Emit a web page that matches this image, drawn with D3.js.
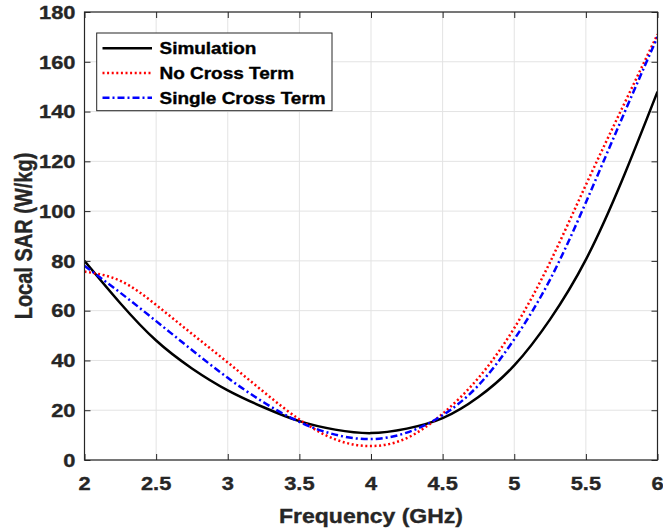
<!DOCTYPE html>
<html>
<head>
<meta charset="utf-8">
<script src="https://cdn.jsdelivr.net/npm/d3@7/dist/d3.min.js"></script>
<style>
  html, body { margin: 0; padding: 0; background: #ffffff; }
  svg { display: block; }
  text { font-family: "Liberation Sans", Arial, Helvetica, sans-serif; font-weight: bold; fill: #262626; stroke: #262626; stroke-width: 0.35px; }
</style>
</head>
<body>
<svg id="chart" width="663" height="529"></svg>
<script>
// ---- data ----
const freq = [2.0, 2.25, 2.5, 2.75, 3.0, 3.25, 3.5, 3.75, 4.0, 4.25, 4.5, 4.75, 5.0, 5.25, 5.5, 5.75, 6.0];
const simulation      = [80.0, 63.0, 48.0, 36.8, 28.0, 21.2, 15.6, 12.2, 10.8, 12.6, 16.8, 25.3, 38.0, 56.5, 80.5, 112.0, 148.0];
const singleCrossTerm = [78.0, 67.2, 55.8, 44.2, 33.0, 23.2, 15.3, 10.2, 8.4, 11.0, 18.0, 30.0, 48.5, 72.5, 103.5, 137.0, 170.0];
const noCrossTerm     = [75.7, 72.0, 62.3, 50.7, 39.2, 27.4, 16.3, 8.3, 5.6, 8.8, 18.6, 33.0, 53.0, 79.5, 110.5, 141.0, 171.0];
const xTicks = [2, 2.5, 3, 3.5, 4, 4.5, 5, 5.5, 6];
const yTicks = [0, 20, 40, 60, 80, 100, 120, 140, 160, 180];
const seriesNames = ["Simulation", "No Cross Term", "Single Cross Term"];
const xLabel = "Frequency (GHz)";
const yLabel = "Local SAR (W/kg)";

// ---- layout ----
const svg = d3.select("#chart");
const L = 84.5, R = 657.5, T = 12, B = 460;
const SX = 1.15; // horizontal stretch of the text in the reference
const axisColor = "#262626";

const x = d3.scaleLinear().domain([2, 6]).range([L, R]);
const y = d3.scaleLinear().domain([0, 180]).range([B, T]);

// grid
const grid = svg.append("g");
grid.selectAll("line.gx").data(xTicks).enter().append("line")
  .attr("x1", d => x(d)).attr("x2", d => x(d)).attr("y1", T).attr("y2", B)
  .attr("stroke", "#e3e3e3").attr("stroke-width", 1);
grid.selectAll("line.gy").data(yTicks).enter().append("line")
  .attr("x1", L).attr("x2", R).attr("y1", d => y(d)).attr("y2", d => y(d))
  .attr("stroke", "#e3e3e3").attr("stroke-width", 1);

// curves
const series = [
  { name: seriesNames[0], values: simulation, color: "#000000", dash: null, width: 2.5 },
  { name: seriesNames[1], values: noCrossTerm, color: "#ff0000", dash: "2,2.6", width: 2.5 },
  { name: seriesNames[2], values: singleCrossTerm, color: "#0000ff", dash: "7,3,2,3", width: 2.5 }
];
const line = d3.line().x(d => x(d[0])).y(d => y(d[1])).curve(d3.curveNatural);
svg.append("clipPath").attr("id", "clip").append("rect")
  .attr("x", L).attr("y", T - 2).attr("width", R - L).attr("height", B - T + 2);
const lines = svg.append("g").attr("clip-path", "url(#clip)");
series.forEach(s => {
  lines.append("path")
    .datum(freq.map((f, i) => [f, s.values[i]]))
    .attr("d", line)
    .attr("fill", "none")
    .attr("stroke", s.color)
    .attr("stroke-width", s.width)
    .attr("stroke-dasharray", s.dash)
    .attr("stroke-linejoin", "round");
});

// axes (box with inward ticks on all sides)
const tickLen = 6;
const axBottom = d3.axisBottom(x).tickValues(xTicks).tickSize(-tickLen).tickFormat("");
const axTop = d3.axisTop(x).tickValues(xTicks).tickSize(-tickLen).tickFormat("");
const axLeft = d3.axisLeft(y).tickValues(yTicks).tickSize(-tickLen).tickFormat("");
const axRight = d3.axisRight(y).tickValues(yTicks).tickSize(-tickLen).tickFormat("");
function styleAxis(g) {
  g.select(".domain").remove();
  g.selectAll(".tick line").attr("stroke", axisColor).attr("stroke-width", 1);
}
svg.append("g").attr("transform", `translate(0,${B})`).call(axBottom).call(styleAxis);
svg.append("g").attr("transform", `translate(0,${T})`).call(axTop).call(styleAxis);
svg.append("g").attr("transform", `translate(${L},0)`).call(axLeft).call(styleAxis);
svg.append("g").attr("transform", `translate(${R},0)`).call(axRight).call(styleAxis);
svg.append("rect").attr("x", L).attr("y", T).attr("width", R - L).attr("height", B - T)
  .attr("fill", "none").attr("stroke", axisColor).attr("stroke-width", 1.2);

// tick labels
const tickFont = 19;
svg.append("g").selectAll("text").data(xTicks).enter().append("text")
  .attr("transform", d => `translate(${x(d)},490) scale(${SX},1)`)
  .attr("text-anchor", "middle")
  .attr("font-size", tickFont)
  .text(d => d3.format("")(d));
svg.append("g").selectAll("text").data(yTicks).enter().append("text")
  .attr("transform", d => `translate(75.5,${y(d) + 6.8}) scale(${SX},1)`)
  .attr("text-anchor", "end")
  .attr("font-size", tickFont)
  .text(d => d);

// axis titles
svg.append("text")
  .attr("transform", `translate(${(L + R) / 2},523) scale(${SX},1)`)
  .attr("text-anchor", "middle").attr("font-size", 20)
  .text(xLabel);
svg.append("text")
  .attr("transform", `translate(31.5,${(T + B) / 2}) scale(${SX},1) rotate(-90)`)
  .attr("text-anchor", "middle").attr("font-size", 20)
  .text(yLabel);

// legend
const lg = svg.append("g");
lg.append("rect").attr("x", 96.7).attr("y", 33).attr("width", 235.3).attr("height", 77.7)
  .attr("fill", "#ffffff").attr("stroke", axisColor).attr("stroke-width", 1);
series.forEach((s, i) => {
  const ry = 48.3 + i * 24.7;
  lg.append("line").attr("x1", 102.5).attr("x2", 152).attr("y1", ry).attr("y2", ry)
    .attr("stroke", s.color).attr("stroke-width", s.width).attr("stroke-dasharray", s.dash);
  lg.append("text")
    .attr("transform", `translate(159.5,${ry + 6}) scale(${SX},1)`)
    .attr("font-size", 16.5)
    .style("fill", "#000").style("stroke", "#000")
    .text(s.name);
});
</script>
</body>
</html>
